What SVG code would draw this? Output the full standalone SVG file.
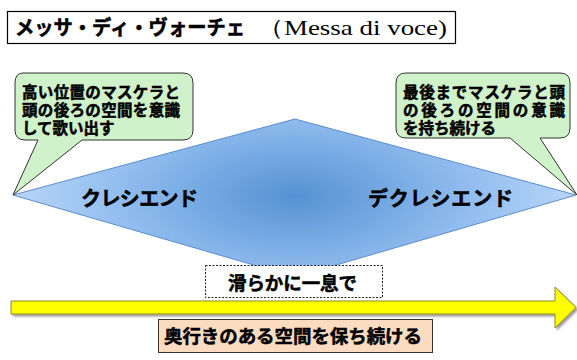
<svg xmlns="http://www.w3.org/2000/svg" width="577" height="360" viewBox="0 0 577 360">
<defs>
<radialGradient id="dg" gradientUnits="userSpaceOnUse" cx="295" cy="196" r="282" gradientTransform="translate(295 196) scale(1 0.45) translate(-295 -196)">
<stop offset="0" stop-color="#5592d3"/>
<stop offset="0.6" stop-color="#8fbbee"/>
<stop offset="1" stop-color="#b8d6f8"/>
</radialGradient>
<filter id="sh" x="-5%" y="-20%" width="110%" height="160%">
<feGaussianBlur in="SourceAlpha" stdDeviation="1"/>
<feOffset dx="1.5" dy="2"/>
<feComponentTransfer><feFuncA type="linear" slope="0.4"/></feComponentTransfer>
<feMerge><feMergeNode/><feMergeNode in="SourceGraphic"/></feMerge>
</filter>
</defs>
<style>
.jp{font-family:"Noto Sans CJK JP","Noto Sans CJK SC",sans-serif;font-weight:bold;fill:#000;stroke:#000;stroke-width:0.5px}
.cal{fill:#cff2ca;stroke:#333;stroke-width:1}
.big{font-size:20px}
.mid{font-size:18.5px}
.sm{font-size:15.5px}
</style>
<g id="title">
<rect x="7.5" y="11.5" width="448" height="32" fill="#fff" stroke="#000" stroke-width="1.2"/>
<text class="jp big" x="15" y="34.5" textLength="230" lengthAdjust="spacingAndGlyphs">メッサ・ディ・ヴォーチェ</text>
<text x="257" y="35" font-family="Liberation Serif,serif" font-size="22" fill="#000" textLength="190" lengthAdjust="spacingAndGlyphs">（Messa di voce)</text>
</g>
<g id="diamond">
<polygon points="13,195 295,119 576,195 295,277" fill="url(#dg)" stroke="#5a8ccc" stroke-width="1"/>
<text class="jp big" x="81" y="205.5" textLength="117">クレシエンド</text>
<text class="jp big" x="368" y="205.5" textLength="145">デクレシエンド</text>
</g>
<g id="callout-left">
<path class="cal" d="M23,73 H183 Q193,73 193,83 V130 Q193,140 183,140 H82 L13,195 L38,140 H25 Q15,140 15,130 V83 Q15,73 23,73 Z"/>
<text class="jp sm" x="22" y="98" textLength="158">高い位置のマスケラと</text>
<text class="jp sm" x="22" y="116" textLength="158">頭の後ろの空間を意識</text>
<text class="jp sm" x="22" y="134">して歌い出す</text>
</g>
<g id="callout-right">
<path class="cal" d="M406,73 H560 Q570,73 570,83 V128 Q570,138 560,138 H540 L577,195 L510,138 H406 Q396,138 396,128 V83 Q396,73 406,73 Z"/>
<text class="jp sm" x="403" y="98" textLength="162">最後までマスケラと頭</text>
<text class="jp sm" x="403" y="116" textLength="162">の後ろの空間の意識</text>
<text class="jp sm" x="403" y="134">を持ち続ける</text>
</g>
<g id="smooth">
<rect x="205.5" y="265.5" width="177" height="32" fill="#fff" stroke="#222" stroke-width="1" stroke-dasharray="2,1.5"/>
<text class="jp mid" x="228" y="289.5" textLength="129">滑らかに一息で</text>
</g>
<g id="connectors">
<path d="M11,301 H555 V287 L576,307.5 L555,328 V314 H11 Z" fill="#ffff00" stroke="#8a8a20" stroke-width="1" filter="url(#sh)"/>
</g>
<g id="keep">
<rect x="158.5" y="319.5" width="274" height="33" fill="#fcdcc1" stroke="#333" stroke-width="1"/>
<text class="jp mid" x="164" y="343" textLength="258">奥行きのある空間を保ち続ける</text>
</g>
</svg>
